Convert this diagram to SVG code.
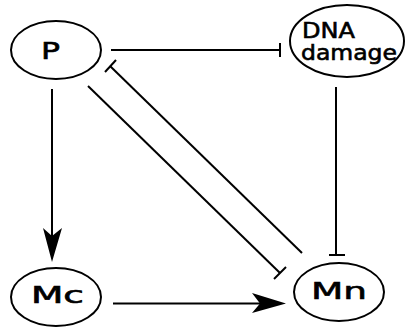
<svg xmlns="http://www.w3.org/2000/svg" width="406" height="327" viewBox="0 0 406 327">
<style>
.node{fill:#fff;stroke:#000;stroke-width:2}
.lbl{font-family:"DejaVu Sans",sans-serif;fill:#000;stroke:#000;stroke-width:0.6}
.e{stroke:#000;stroke-width:2;fill:none}
.head{fill:#000;stroke:none}
</style>
<rect width="406" height="327" fill="#fff"/>
<g id="connectors">
  <!-- P -| DNA damage -->
  <line class="e" x1="111" y1="50" x2="280" y2="50"/>
  <line class="e" x1="280" y1="43" x2="280" y2="57"/>
  <!-- P -> Mc -->
  <line class="e" x1="52" y1="89" x2="52" y2="240"/>
  <path class="head" d="M52,262 L43,228 L52,236 L62,228 Z"/>
  <!-- Mc -> Mn -->
  <line class="e" x1="113" y1="303.5" x2="265" y2="303.5"/>
  <path class="head" d="M286,303.5 L252,293 L260,303.5 L252,313 Z"/>
  <!-- DNA damage -| Mn -->
  <line class="e" x1="336" y1="87" x2="336" y2="255"/>
  <line class="e" x1="329" y1="255" x2="345" y2="255"/>
  <!-- P -| Mn -->
  <line class="e" x1="88" y1="86" x2="280" y2="273"/>
  <line class="e" x1="274" y1="279" x2="286" y2="267"/>
  <!-- Mn -| P -->
  <line class="e" x1="302" y1="253" x2="110" y2="66"/>
  <line class="e" x1="105" y1="72" x2="116" y2="60"/>
</g>
<g id="P">
  <ellipse class="node" cx="56" cy="50" rx="45" ry="29"/>
  <text class="lbl" x="41" y="59" font-size="23.5" textLength="19" lengthAdjust="spacingAndGlyphs">P</text>
</g>
<g id="DNA_damage">
  <ellipse class="node" cx="347" cy="41" rx="57" ry="36"/>
  <text class="lbl" x="302" y="38" font-size="21" textLength="53" lengthAdjust="spacingAndGlyphs">DNA</text>
  <text class="lbl" x="301" y="60" font-size="21" textLength="96" lengthAdjust="spacingAndGlyphs">damage</text>
</g>
<g id="Mc">
  <ellipse class="node" cx="56" cy="297" rx="45" ry="29"/>
  <text class="lbl" x="31" y="303" font-size="22.5" textLength="53" lengthAdjust="spacingAndGlyphs">Mc</text>
</g>
<g id="Mn">
  <ellipse class="node" cx="339" cy="292" rx="45" ry="29"/>
  <text class="lbl" x="311" y="299" font-size="23.5" textLength="56" lengthAdjust="spacingAndGlyphs">Mn</text>
</g>
</svg>
